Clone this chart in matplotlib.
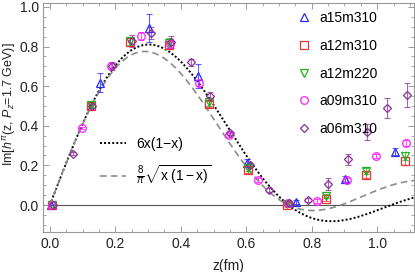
import numpy as np
import matplotlib
matplotlib.use('Agg')
import matplotlib.pyplot as plt
from matplotlib.lines import Line2D

plt.rcParams['font.family'] = ['Liberation Sans', 'DejaVu Sans']
plt.rcParams['mathtext.fontset'] = 'custom'
plt.rcParams['mathtext.rm'] = 'Liberation Sans'
plt.rcParams['mathtext.it'] = 'Liberation Sans:italic'
plt.rcParams['font.size'] = 10

# lattice data: z in fm, Im h, error
z_a15 = [0.0, 0.15, 0.30, 0.45, 0.60, 0.75, 0.90, 1.05]
h_a15 = [0.0, 0.617, 0.892, 0.650, 0.214, 0.013, 0.130, 0.270]
e_a15 = [0.0, 0.048, 0.070, 0.060, 0.020, 0.010, 0.015, 0.020]

z_a12 = [0.0, 0.12, 0.24, 0.36, 0.48, 0.60, 0.72, 0.84, 0.96, 1.08]
h_a12m310 = [0.0, 0.500, 0.825, 0.808, 0.512, 0.177, 0.000, 0.032, 0.152, 0.222]
e_a12m310 = [0.0, 0.010, 0.020, 0.020, 0.015, 0.015, 0.010, 0.010, 0.015, 0.020]
h_a12m220 = [0.0, 0.505, 0.830, 0.820, 0.520, 0.185, 0.005, 0.045, 0.172, 0.247]
e_a12m220 = [0.0, 0.010, 0.020, 0.025, 0.020, 0.015, 0.010, 0.010, 0.015, 0.020]

z_a09 = [0.0, 0.09, 0.18, 0.27, 0.36, 0.45, 0.54, 0.63, 0.72, 0.81, 0.90, 0.99, 1.08]
h_a09 = [0.0, 0.387, 0.700, 0.853, 0.815, 0.615, 0.354, 0.126, 0.012, 0.022, 0.126, 0.247, 0.315]
e_a09 = [0.0, 0.005, 0.015, 0.020, 0.020, 0.015, 0.010, 0.010, 0.010, 0.010, 0.010, 0.010, 0.015]

z_a06 = [0.0, 0.06, 0.12, 0.18, 0.24, 0.30, 0.36, 0.42, 0.48, 0.54, 0.60, 0.66, 0.72,
         0.78, 0.84, 0.90, 0.96, 1.02, 1.08]
h_a06 = [0.0, 0.260, 0.500, 0.700, 0.830, 0.870, 0.825, 0.720, 0.552, 0.365, 0.200, 0.076,
         0.012, 0.025, 0.106, 0.230, 0.370, 0.488, 0.556]
e_a06 = [0.0, 0.010, 0.010, 0.020, 0.030, 0.030, 0.030, 0.017, 0.020, 0.010, 0.010, 0.010,
         0.010, 0.010, 0.030, 0.030, 0.040, 0.050, 0.060]

# small horizontal shifts used in the original to separate ensembles
shift = {'a15m310': 0.003, 'a12m310': 0.005, 'a12m220': 0.005, 'a09m310': 0.007, 'a06m310': 0.010}

Pz = 1.7      # GeV
hbarc = 0.1973  # GeV fm

# model curves: Im h(nu) = int_0^1 sin(x nu) phi(x) dx
zz = np.linspace(0.0, 1.12, 400)
nu = zz * Pz / hbarc
xg = np.linspace(0.0, 1.0, 4001)
phi1 = 6 * xg * (1 - xg)
phi2 = 8 / np.pi * np.sqrt(xg * (1 - xg))
im1 = np.trapezoid(np.sin(np.outer(nu, xg)) * phi1, xg, axis=1)
im2 = np.trapezoid(np.sin(np.outer(nu, xg)) * phi2, xg, axis=1)

fig = plt.figure(figsize=(4.15, 2.72), dpi=100)
ax = fig.add_axes([0.104, 0.148, 0.894, 0.841])

ax.axhline(0, color='#555555', lw=0.8, zorder=1)
l1, = ax.plot(zz, im1, color='black', ls=(0, (1, 1.1)), lw=1.4, zorder=2)
l2, = ax.plot(zz, im2, color='#8c8c8c', ls=(0, (4, 2.5)), lw=1.2, zorder=2)

series = [
    ('a15m310', z_a15, h_a15, e_a15, '^', '#2b2bff'),
    ('a12m310', z_a12, h_a12m310, e_a12m310, 's', '#f03030'),
    ('a12m220', z_a12, h_a12m220, e_a12m220, 'v', '#20b020'),
    ('a09m310', z_a09, h_a09, e_a09, 'o', '#ff20ff'),
    ('a06m310', z_a06, h_a06, e_a06, 'D', '#8a3096'),
]
handles = []
for name, z, h, e, m, c in series:
    zs = np.array(z) + shift[name]
    ms = 4.5 if m == 'D' else 5.5
    ax.errorbar(zs, h, yerr=e, fmt='none', ecolor=c, elinewidth=0.8, capsize=2.2,
                capthick=0.8, alpha=0.75, zorder=3)
    ax.plot(zs, h, ls='none', marker=m, ms=ms, mfc='none', mec=c, mew=0.9, zorder=4)
    handles.append(Line2D([], [], ls='none', marker=m, ms=ms, mfc='none', mec=c, mew=0.9))

leg1 = ax.legend(handles, [s[0] for s in series], loc='upper left',
                 bbox_to_anchor=(0.663, 1.0), frameon=False, handlelength=1.0,
                 handletextpad=0.6, labelspacing=0.98, borderaxespad=0.2)
ax.add_artist(leg1)
ax.legend([l1, l2], ['6x(1\u2212x)', r'$\frac{8}{\pi}\sqrt{\mathrm{x}\ (1-\mathrm{x})}$'],
          loc='upper left', bbox_to_anchor=(0.13, 0.45), frameon=False,
          handlelength=1.9, handletextpad=0.7, labelspacing=0.85, borderaxespad=0.2)

ax.set_xlim(-0.0205, 1.113)
ax.set_ylim(-0.135, 1.02)
ax.set_xticks(np.arange(0, 1.01, 0.2))
ax.set_xticks(np.arange(0, 1.11, 0.05), minor=True)
ax.set_yticks(np.arange(0, 1.01, 0.2))
ax.set_yticks(np.arange(-0.1, 1.01, 0.05), minor=True)
ax.xaxis.set_major_formatter(matplotlib.ticker.FormatStrFormatter('%.1f'))
ax.yaxis.set_major_formatter(matplotlib.ticker.FormatStrFormatter('%.1f'))
ax.tick_params(which='both', direction='in', top=True, right=True, color='#999999',
               labelcolor='#222222', labelsize=10)
ax.tick_params(axis='y', which='major', pad=3)
ax.tick_params(which='major', length=4, width=0.7)
ax.tick_params(which='minor', length=2, width=0.6)
for s in ax.spines.values():
    s.set_color('#999999')
    s.set_linewidth(0.8)

ax.set_xlabel('z(fm)', color='#222222', labelpad=6)
ax.set_ylabel(r'Im[$h^{\pi}$(z, $P_z$=1.7 GeV)]', color='#222222', fontsize=9)
ax.yaxis.set_label_coords(-0.068, 0.56)

fig.savefig('out.png', dpi=100)
